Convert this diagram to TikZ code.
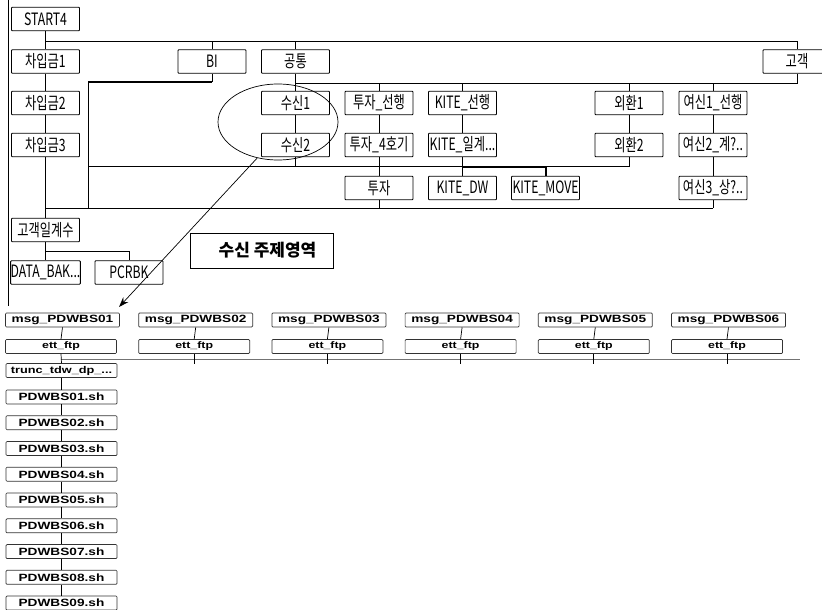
\documentclass[tikz,border=0pt]{standalone}
\usepackage{fontspec}
\setmainfont{Liberation Sans}
\newfontfamily\krc[FakeStretch=0.72]{Noto Sans CJK KR}
\newfontfamily\krb{Noto Sans CJK KR}
\newfontfamily\bsans[FakeStretch=1.3]{Liberation Sans}
\usetikzlibrary{arrows.meta,shapes.geometric}
\tikzset{
  tbox/.style={draw=black, line width=0.9pt, fill=white, minimum width=68pt, minimum height=23.5pt,
    inner sep=0pt, rounded corners=0.8pt, font=\krc\fontsize{17}{17}\selectfont},
  mbox/.style={draw=black!80, line width=0.7pt, fill=white, minimum width=114pt, minimum height=14pt,
    inner sep=0pt, rounded corners=1pt, font=\bsans\bfseries\fontsize{10.5}{11}\selectfont},
  ebox/.style={mbox, minimum width=111pt, font=\bsans\bfseries\fontsize{9.5}{10}\selectfont},
  pbox/.style={mbox, minimum width=111pt},
  conn/.style={line width=0.8pt, black},
  thk/.style={line width=2pt, black},
  gline/.style={line width=0.9pt, black!55}
}
\begin{document}
\begin{tikzpicture}[x=1pt,y=-1pt]
\clip (0,0) rectangle (822,610);
\fill[white] (0,0) rectangle (822,610);

% ---------- top tree nodes ----------
\node[tbox] (start) at (45.5,19) {START4};
\node[tbox] (c1) at (45.5,61.5) {차입금1};
\node[tbox] (c2) at (45.5,103) {차입금2};
\node[tbox] (c3) at (45.5,145) {차입금3};
\node[tbox] (bi) at (212,61.5) {BI};
\node[tbox] (gt) at (295.5,61.5) {공통};
\node[tbox] (gg) at (797,61.5) {고객};
\node[tbox] (sn1) at (295.5,103) {수신1};
\node[tbox] (sn2) at (295.5,145) {수신2};
\node[tbox] (tj1) at (379,103) {투자\_선행};
\node[tbox] (tj2) at (379,145) {투자\_4호기};
\node[tbox] (tj3) at (379,188) {투자};
\node[tbox] (k1) at (462.5,103) {KITE\_선행};
\node[tbox] (k2) at (462.5,145) {KITE\_일계...};
\node[tbox] (kdw) at (462.5,188) {KITE\_DW};
\node[tbox] (kmv) at (545.5,188) {KITE\_MOVE};
\node[tbox] (oh1) at (629,103) {외환1};
\node[tbox] (oh2) at (629,145) {외환2};
\node[tbox] (ys1) at (713,103) {여신1\_선행};
\node[tbox] (ys2) at (713,145) {여신2\_계?..};
\node[tbox] (ys3) at (713,188) {여신3\_상?..};
\node[tbox] (gi) at (45.5,230) {고객일계수};
\node[tbox] (db) at (45.5,272.5) {DATA\_BAK...};
\node[tbox] (pc) at (129,272.5) {PCRBK};

% ---------- bus coordinates ----------
\coordinate (lt) at (8,0);
\coordinate (lb) at (8,306);
\coordinate (b1L) at (45.5,41.5);
\coordinate (b1R) at (797,41.5);
\coordinate (b2) at (88,82.5);
\coordinate (b3L) at (295.5,83);
\coordinate (b3R) at (797,83);
\coordinate (b6L) at (88,166.5);
\coordinate (b6R) at (629,166.5);
\coordinate (b7L) at (45.5,208);
\coordinate (b7R) at (713,208);
\coordinate (b5) at (45.5,251.5);

% ---------- top tree connectors ----------
\draw[conn] (lt) -- (lb);
\draw[conn] (start.south) -- (c1.north);
\draw[conn] (b1L) -- (b1R) -- (gg.north);
\draw[conn] (bi.north) -- (bi.north |- b1L);
\draw[conn] (gt.north) -- (gt.north |- b1L);
\draw[conn] (c1.south) -- (c2.north);
\draw[conn] (c2.south) -- (c3.north);
\draw[conn] (c3.south) -- (gi.north);
\draw[conn] (gi.south) -- (db.north);
\draw[conn] (b5) -| (pc.north);
% BI branch
\draw[conn] (bi.south) -- (bi.south |- b2);
\draw[thk] (bi.south |- b2) -- (b2);
\draw[conn] (b2) -- (b6L);
\draw[conn] (b6L) -- (b6L |- b7L);
% customer bus
\draw[conn] (gg.south) -- (b3R) -- (b3L);
\draw[conn] (gt.south) -- (sn1.north);
\draw[conn] (tj1.north) -- (tj1.north |- b3L);
\draw[conn] (k1.north) -- (k1.north |- b3L);
\draw[conn] (oh1.north) -- (oh1.north |- b3L);
\draw[conn] (ys1.north) -- (ys1.north |- b3L);
% chains
\draw[conn] (sn1.south) -- (sn2.north);
\draw[conn] (tj1.south) -- (tj2.north);
\draw[conn] (tj2.south) -- (tj3.north);
\draw[conn] (k1.south) -- (k2.north);
\draw[conn] (oh1.south) -- (oh2.north);
\draw[conn] (ys1.south) -- (ys2.north);
\draw[conn] (ys2.south) -- (ys3.north);
% bus y=166.5
\draw[conn] (b6L) -- (b6R);
\draw[conn] (sn2.south) -- (sn2.south |- b6L);
\draw[conn] (k2.south) -- (kdw.north);
\draw[conn] (oh2.south) -- (b6R);
\draw[thk] (k2.south |- b6L) -| (kmv.north);
% bus y=208
\draw[conn] (b7L) -- (b7R);
\draw[conn] (tj3.south) -- (tj3.south |- b7L);
\draw[conn] (ys3.south) -- (b7R);

% ---------- ellipse, label box ----------
\node[draw, ellipse, line width=0.7pt, minimum width=120pt, minimum height=76pt, inner sep=0pt] (el) at (278,122) {};
\node[draw, line width=0.9pt, minimum width=143pt, minimum height=35pt, inner sep=0pt,
  font=\krb\bfseries\fontsize{17}{18}\selectfont] (zone) at (261.5,250.5) {\hspace*{12pt}수신 주제영역};

% ---------- bottom section ----------
\foreach \i in {1,...,6} {
  \pgfmathsetmacro\xx{62.5+133.2*(\i-1)}
  \node[mbox] (m\i) at (\xx,320) {msg\_PDWBS0\i};
  \node[ebox] (e\i) at (\xx-1.5,346.5) {ett\_ftp};
  \draw[conn, line width=0.7pt] (m\i.south) -- (e\i.north);
}
\coordinate (gl) at (800,359);
\draw[gline] (e1.south |- gl) -- (gl);
\foreach \i in {2,...,6} {
  \draw[conn, line width=0.7pt] (e\i.south) -- ++(0,10);
}
\node[pbox, font=\bsans\bfseries\fontsize{9.8}{10}\selectfont] (tr) at (61.5,370.5) {trunc\_tdw\_dp\_...};
\draw[conn, line width=0.7pt] (e1.south) -- (tr.north);
\foreach \k in {1,...,9} {
  \node[pbox] (p\k) at (61.5,{397+25.75*(\k-1)}) {PDWBS0\k.sh};
}
\draw[conn, line width=0.7pt] (tr.south) -- (p1.north);
\foreach \k [evaluate=\k as \j using int(\k+1)] in {1,...,8} {
  \draw[conn, line width=0.7pt] (p\k.south) -- (p\j.north);
}

% ---------- arrow from ellipse to msg_PDWBS01 ----------
\coordinate (tip) at (119,307);
\draw[line width=0.7pt, -{Stealth[length=10pt,width=7pt]}] (el.-120) -- (tip);
\end{tikzpicture}
\end{document}
